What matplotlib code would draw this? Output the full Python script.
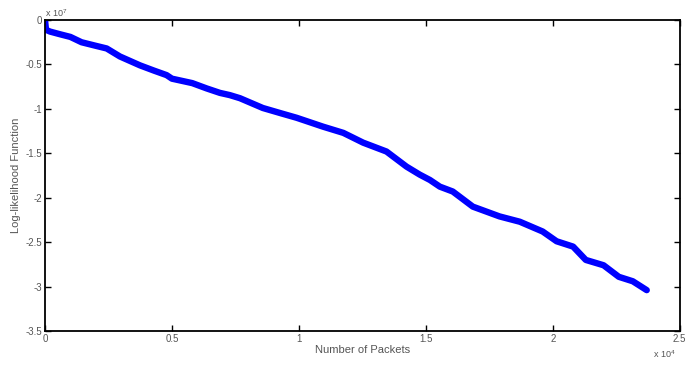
import matplotlib
matplotlib.use("Agg")
import matplotlib.pyplot as plt

plt.rcParams["font.family"] = ["Liberation Sans", "DejaVu Sans"]
plt.rcParams["mathtext.fontset"] = "custom"
plt.rcParams["mathtext.rm"] = "Liberation Sans"

# Number of packets (x 10^4) and log-likelihood (x 10^7)
packets = [0.0, 0.004, 0.02, 0.059, 0.10, 0.144, 0.20, 0.243, 0.295, 0.374, 0.43,
           0.479, 0.50, 0.58, 0.637, 0.689, 0.728, 0.768, 0.858, 0.93, 0.991,
           1.095, 1.175, 1.253, 1.345, 1.424, 1.476, 1.516, 1.555, 1.606, 1.685,
           1.79, 1.87, 1.96, 2.015, 2.08, 2.13, 2.20, 2.26, 2.315, 2.37]
loglik = [0.0, -0.11, -0.13, -0.16, -0.19, -0.25, -0.29, -0.32, -0.41, -0.51, -0.57,
          -0.62, -0.66, -0.71, -0.77, -0.82, -0.845, -0.88, -0.99, -1.05, -1.10,
          -1.20, -1.27, -1.38, -1.48, -1.65, -1.74, -1.80, -1.875, -1.93, -2.10,
          -2.21, -2.27, -2.38, -2.49, -2.55, -2.70, -2.76, -2.89, -2.94, -3.04]

xticks = [0, 0.5, 1, 1.5, 2, 2.5]
xticklabels = ["0", "0.5", "1", "1.5", "2", "2.5"]
yticks = [0, -0.5, -1, -1.5, -2, -2.5, -3, -3.5]
yticklabels = ["0", "-0.5", "-1", "-1.5", "-2", "-2.5", "-3", "-3.5"]

fig = plt.figure(figsize=(6.88, 3.78), dpi=100)
ax = fig.add_axes([0.0654, 0.1243, 0.9226, 0.8227])
ax.plot(packets, loglik, color="#0000ff", lw=4.6, solid_capstyle="round",
        solid_joinstyle="round")
ax.set_xlim(0, 2.5)
ax.set_ylim(-3.5, 0)
ax.set_xticks(xticks)
ax.set_xticklabels(xticklabels)
ax.set_yticks(yticks)
ax.set_yticklabels(yticklabels)
tc = "#555555"
ax.tick_params(direction="in", top=True, right=True, length=4.5, width=1,
               labelsize=7, labelcolor=tc, pad=2)
for s in ax.spines.values():
    s.set_linewidth(1.3)
ax.set_xlabel("Number of Packets", fontsize=8, color=tc, labelpad=1)
ax.set_ylabel("Log-likelihood Function", fontsize=8, color=tc, labelpad=3)
fig.text(45 / 688, 1 - 13 / 378, r"x 10$^{7}$", fontsize=6.5, color=tc,
         ha="left", va="center")
fig.text(653 / 688, 1 - 354 / 378, r"x 10$^{4}$", fontsize=6.5, color=tc,
         ha="left", va="center")
fig.savefig("out.png", dpi=100)
